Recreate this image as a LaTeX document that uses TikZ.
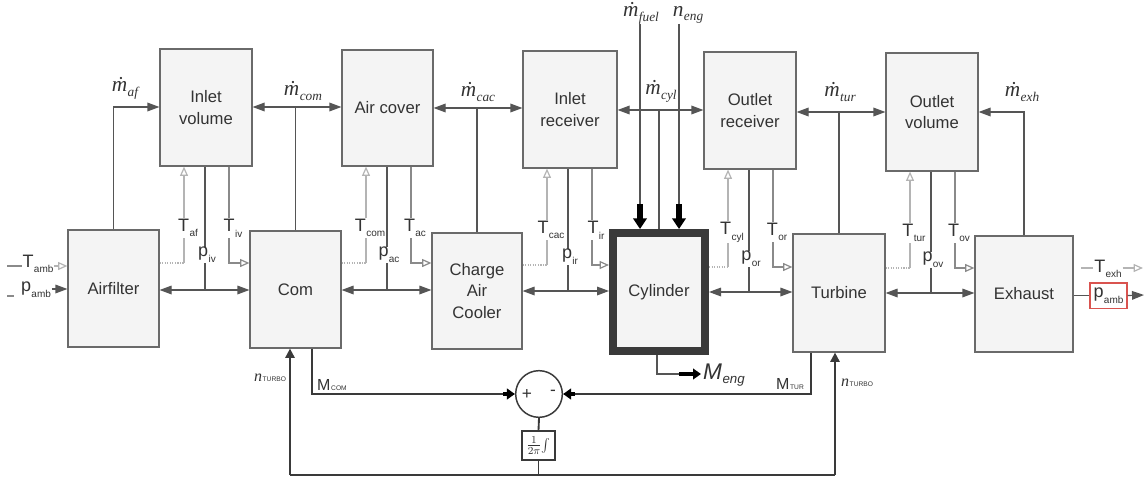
\documentclass[tikz,border=0pt]{standalone}
\usepackage{fontspec}
\setmainfont{Liberation Sans}
\newfontfamily\tms{Liberation Serif}
\usetikzlibrary{arrows.meta}
\definecolor{dk}{HTML}{555555}
\definecolor{boxc}{HTML}{6A6A6A}
\definecolor{boxf}{HTML}{F4F4F4}
\definecolor{lg}{HTML}{B4B4B4}
\definecolor{md}{HTML}{8A8A8A}
\definecolor{txt}{HTML}{333333}
\definecolor{bk}{HTML}{3A3A3A}
\definecolor{redb}{HTML}{D9534F}
\newcommand{\Ts}[2]{#1\kern0.3pt\raisebox{-0.6ex}{\fontsize{7.5}{8}\selectfont #2}}
\newcommand{\Sc}[2]{#1\kern0.5pt{\fontsize{5}{5}\selectfont #2}}
\newcommand{\Md}[1]{{\tms\itshape ṁ\kern0.3pt\raisebox{-0.5ex}{\fontsize{10}{10}\selectfont #1}}}
% #1 vol, #2 left comp, #3 right comp, #4 vol left x, #5 T-line y, #6 flow y, #7 Tin, #8 p, #9 Tout
\newcommand{\vgroup}[9]{%
  \coordinate (#1-a) at ({#4+24},#5);
  \coordinate (#1-b) at ({#4+45},#6);
  \coordinate (#1-c) at ({#4+69},#5);
  \draw[lgt, densely dotted] (#2.east |- #1-a) -- (#1-a);
  \draw[lgt, ltip] (#1-a) -- (#1-a |- #1.south);
  \draw[flow] (#1-b) -- (#1-b |- #1.south);
  \draw[mdl, ltip] (#1-c |- #1.south) -- (#1-c) -- (#1-c -| #3.west);
  \draw[flow,<->] (#2.east |- #1-b) -- (#3.west |- #1-b);
  \node[lbl] (#1-tl) at ({#4+28},{#5-35}) {#7};
  \node[lbl] (#1-pl) at ({#4+47},{#5-8}) {#8};
  \node[lbl] (#1-tr) at ({#4+73},{#5-35}) {#9};
}
\begin{document}
\begin{tikzpicture}[x=0.75pt,y=-0.75pt,
  >={Triangle[length=9pt,width=6.5pt]},
  box/.style={draw=boxc, fill=boxf, line width=0.9pt, align=center, inner sep=0pt,
    text=txt, font=\fontsize{12.5}{16}\selectfont},
  flow/.style={draw=dk, line width=0.9pt},
  lgt/.style={draw=lg, line width=0.9pt},
  mdl/.style={draw=md, line width=0.9pt},
  ltip/.style={-{Triangle[open,length=7pt,width=6pt]}},
  bot/.style={draw=bk, line width=1.4pt},
  fat/.style={draw=black, line width=4pt, -{Triangle[length=8pt,width=10pt]}},
  fatb/.style={draw=black, line width=3pt, -{Triangle[length=6pt,width=8pt]}},
  lbl/.style={fill=white, inner sep=0.5pt, text=txt, font=\fontsize{13.5}{14}\selectfont},
  mlbl/.style={inner sep=0.5pt, text=txt, font=\fontsize{16}{16}\selectfont},
  slbl/.style={inner sep=0.5pt, text=txt, font=\fontsize{12}{12}\selectfont},
]
\useasboundingbox (0,0) rectangle (1145,481);

% top row volumes
\node[box, minimum width=69pt, minimum height=87.75pt] (iv) at (206,107.5) {Inlet\\volume};
\node[box, minimum width=68.25pt, minimum height=87pt] (ac) at (387.5,108) {Air cover};
\node[box, minimum width=70.5pt, minimum height=87.75pt] (ir) at (570,109.5) {Inlet\\receiver};
\node[box, minimum width=69pt, minimum height=87.75pt] (or) at (750,110.5) {Outlet\\receiver};
\node[box, minimum width=69pt, minimum height=88.5pt] (ov) at (932,112) {Outlet\\volume};

% bottom row components
\node[box, minimum width=68.25pt, minimum height=87.75pt] (af) at (113.5,288.5) {Airfilter};
\node[box, minimum width=68.25pt, minimum height=87.75pt] (com) at (295.5,289.5) {Com};
\node[box, minimum width=67.5pt, minimum height=87pt] (cac) at (477,291) {Charge\\Air\\Cooler};
\node[box, draw=bk, line width=6pt, outer sep=3pt, minimum width=69pt, minimum height=88.5pt] (cyl) at (659,292) {Cylinder};
\node[box, minimum width=69pt, minimum height=88.5pt] (tur) at (839,293) {Turbine};
\node[box, minimum width=73.5pt, minimum height=87pt] (exh) at (1024,294) {Exhaust};

% top mass-flow connections
\draw[flow,->] (af.north) |- (iv.west |- 0,107);
\draw[flow,<->] (iv.east |- 0,107) -- (ac.west |- 0,107);
\draw[flow] (com.north) -- (com.north |- 0,107);
\draw[flow,<->] (ac.east |- 0,108) -- (ir.west |- 0,108);
\draw[flow] (cac.north) -- (cac.north |- 0,108);
\draw[flow,<->] (ir.east |- 0,110) -- (or.west |- 0,110);
\draw[flow] (cyl.north) -- (cyl.north |- 0,110);
\draw[flow,<->] (or.east |- 0,112) -- (ov.west |- 0,112);
\draw[flow] (tur.north) -- (tur.north |- 0,112);
\draw[flow,->] (exh.north) |- (ov.east |- 0,112);

\node[mlbl] (maf) at (125,88) {\Md{af}};
\node[mlbl] (mcom) at (303,91) {\Md{com}};
\node[mlbl] (mcac) at (478,92) {\Md{cac}};
\node[mlbl] (mcyl) at (661,91) {\Md{cyl}};
\node[mlbl] (mtur) at (840,92) {\Md{tur}};
\node[mlbl] (mexh) at (1022,92) {\Md{exh}};
\node[mlbl, anchor=base] (mfuel) at (641,17) {\Md{fuel}};
\node[mlbl, anchor=base] (neng) at (688,17) {{\tms\itshape n\kern0.3pt\raisebox{-0.4ex}{\fontsize{10}{10}\selectfont eng}}};

% fuel and engine speed inputs
\coordinate (fu) at (640,24);
\coordinate (fu2) at (640,204);
\coordinate (en) at (679,24);
\coordinate (en2) at (679,204);
\draw[flow] (fu) -- (fu2);
\draw[fat] (fu2) -- (fu2 |- cyl.north);
\draw[flow] (en) -- (en2);
\draw[fat] (en2) -- (en2 |- cyl.north);

% volume signal groups
\vgroup{iv}{af}{com}{160}{263}{290}{\Ts{T}{af}}{\Ts{p}{iv}}{\Ts{T}{iv}}
\vgroup{ac}{com}{cac}{342}{263}{290}{\Ts{T}{com}}{\Ts{p}{ac}}{\Ts{T}{ac}}
\vgroup{ir}{cac}{cyl}{523}{265}{291}{\Ts{T}{cac}}{\Ts{p}{ir}}{\Ts{T}{ir}}
\vgroup{or}{cyl}{tur}{704}{267}{292}{\Ts{T}{cyl}}{\Ts{p}{or}}{\Ts{T}{or}}
\vgroup{ov}{tur}{exh}{886}{268}{293}{\Ts{T}{tur}}{\Ts{p}{ov}}{\Ts{T}{ov}}

% ambient inputs (left)
\node[lbl] (tamb) at (38,264) {\Ts{T}{amb}};
\coordinate (ta0) at (7,266);
\draw[mdl] (ta0) -- (tamb.west |- ta0);
\draw[lgt, ltip] (tamb.east |- ta0) -- (af.west |- ta0);
\node[lbl] (pamb) at (36,290) {\Ts{p}{amb}};
\coordinate (pa0) at (7,296);
\coordinate (pa1) at (14,296);
\draw[mdl] (pa0) -- (pa1);
\draw[flow,->] (pamb.east |- 0,289) -- (af.west |- 0,289);

% exhaust outputs (right)
\node[lbl] (texh) at (1108,269) {\Ts{T}{exh}};
\coordinate (te0) at (1081,268);
\coordinate (te1) at (1143,268);
\draw[lgt] (te0) -- (texh.west |- te0);
\draw[lgt, ltip] (texh.east |- te0) -- (te1);
\node[draw=redb, line width=1pt, fill=white, minimum width=27.75pt, minimum height=19pt, inner sep=0pt,
  text=txt, font=\fontsize{13.5}{14}\selectfont] (pout) at (1108.5,295.5) {\Ts{p}{amb}};
\coordinate (po1) at (1144,295);
\draw[flow] (exh.east |- pout.west) -- (pout.west);
\draw[flow,->] (pout.east) -- (po1);

% torque balance
\node[circle, draw=bk, line width=1.1pt, fill=white, minimum size=35pt, inner sep=0pt] (sum) at (539,394) {};
\node[text=txt, font=\fontsize{13}{13}\selectfont] (splus) at (527,394) {+};
\node[text=txt, font=\fontsize{13}{13}\selectfont] (sminus) at (553,393) {-};
\node[draw=bk, line width=1pt, fill=white, minimum width=24.75pt, minimum height=21.75pt, inner sep=0pt,
  text=txt, font=\fontsize{11}{11}\selectfont] (integ) at (538.5,445.5) {$\frac{1}{2\pi}\!\int$};

\coordinate (bl) at (290,475);
\coordinate (br) at (835,475);
\draw[bot] (bl) -- (br);
\draw[bot, -{Triangle[length=7pt,width=7pt]}] (bl) -- (bl |- com.south);
\draw[bot, -{Triangle[length=7pt,width=7pt]}] (br) -- (br |- tur.south);
\draw[bot] (sum.south) -- (integ.north);
\draw[bot] (integ.south) -- (integ.south |- bl);

\coordinate (mc) at (312,394);
\coordinate (mca) at (503,394);
\draw[bot] (mc |- com.south) -- (mc) -- (mca);
\draw[fatb] (mca) -- (sum.west);
\coordinate (mt) at (811,394);
\coordinate (mtb) at (575,394);
\draw[bot] (mt |- tur.south) -- (mt) -- (mtb);
\draw[fatb] (mtb) -- (sum.east);

\node[slbl] (ntc) at (270,378) {\Sc{{\tms\itshape n}}{TURBO}};
\node[slbl] (ntt) at (857,383) {\Sc{{\tms\itshape n}}{TURBO}};
\node[slbl] (mcl) at (332,385) {\Sc{M}{COM}};
\node[slbl] (mtl) at (790,384) {\Sc{M}{TUR}};

% engine torque output
\coordinate (me1) at (657,374);
\coordinate (me2) at (679,374);
\coordinate (me3) at (701,374);
\draw[flow, line width=1.2pt] (me1 |- cyl.south) -- (me1) -- (me2);
\draw[fatb] (me2) -- (me3);
\node[inner sep=0.5pt, text=txt, font=\fontsize{17}{17}\selectfont] (meng) at (724,375) {\itshape M\kern0.3pt\raisebox{-0.4ex}{\fontsize{10}{10}\selectfont eng}};
\end{tikzpicture}
\end{document}
